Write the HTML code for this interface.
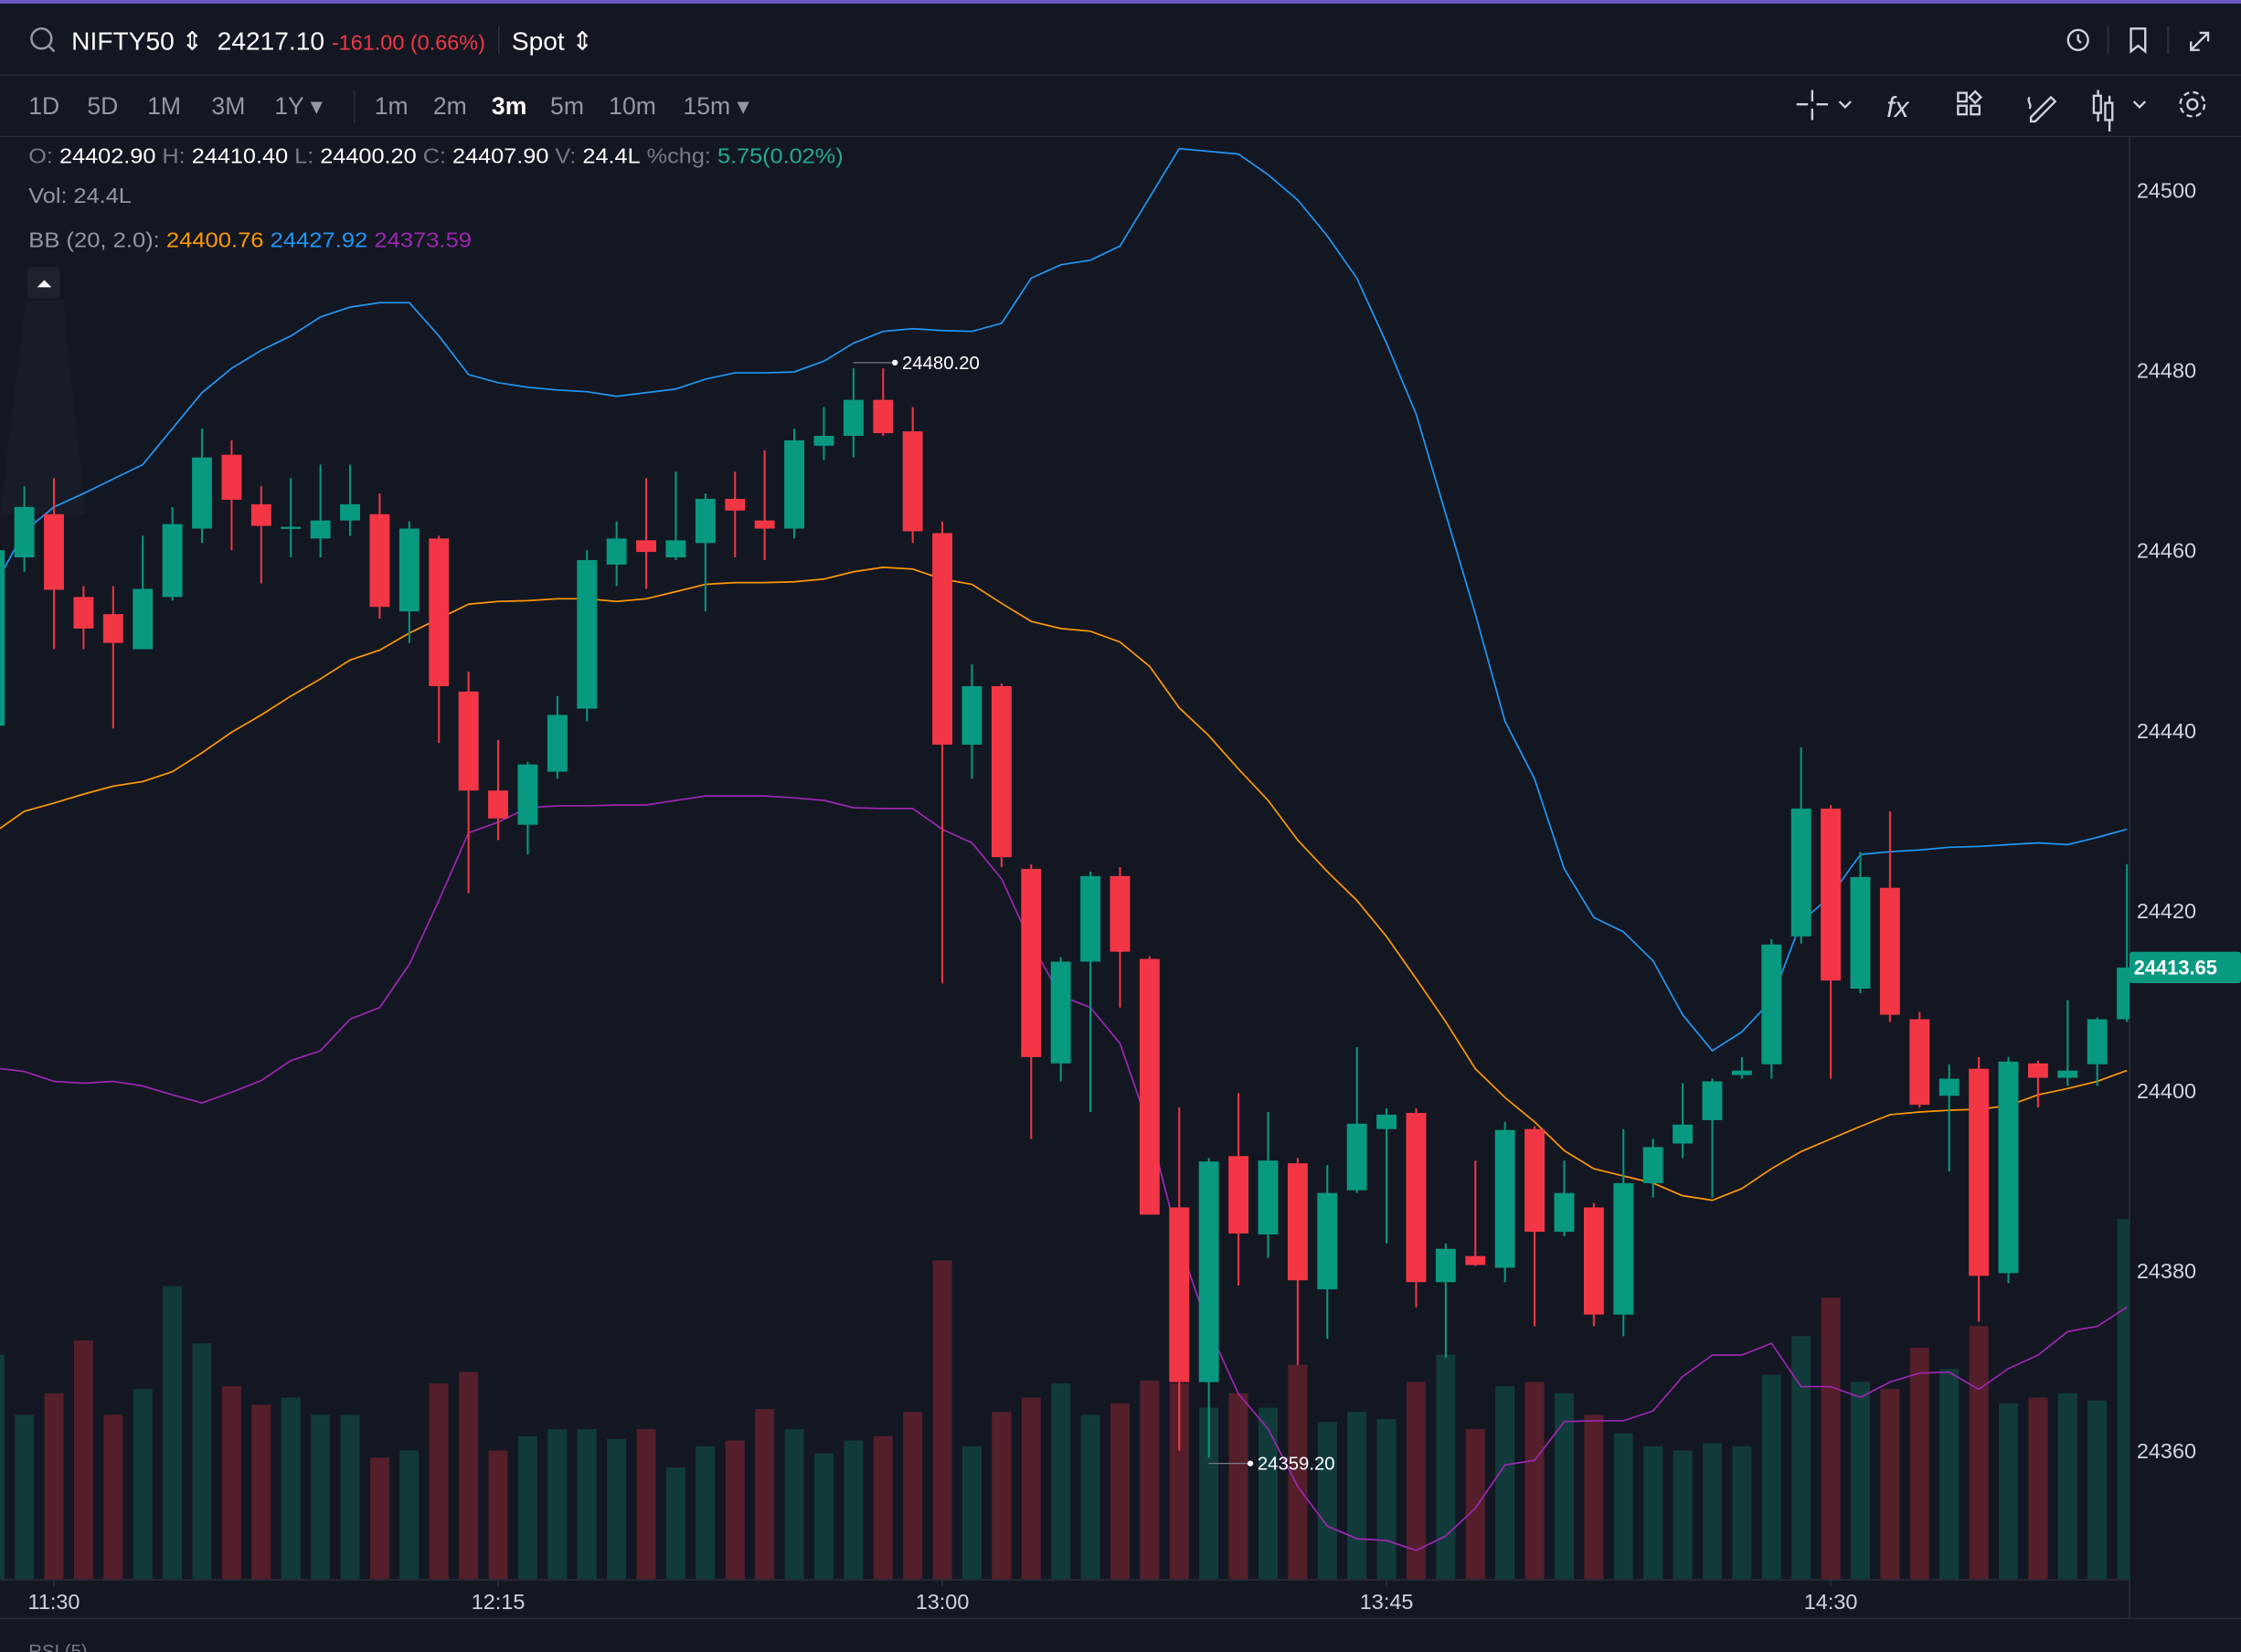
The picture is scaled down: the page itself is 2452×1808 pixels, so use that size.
<!DOCTYPE html>
<html><head><meta charset="utf-8"><style>
html,body{margin:0;padding:0;background:#131722;overflow:hidden}
svg{display:block}
text{font-family:"Liberation Sans",sans-serif}
</style></head><body>
<svg id="c" width="2452" height="1808" viewBox="0 0 1568 1156" preserveAspectRatio="none" xmlns="http://www.w3.org/2000/svg">
<defs><clipPath id="plot"><rect x="0" y="96" width="1490" height="1010"/></clipPath></defs>
<rect x="0" y="0" width="1568" height="1156" fill="#131722"/>
<rect x="0" y="0" width="1568" height="2.5" fill="#6a5cc4"/>
<line x1="0" y1="52.5" x2="1568" y2="52.5" stroke="#2a2e39"/>
<line x1="0" y1="95.5" x2="1568" y2="95.5" stroke="#2a2e39"/>
<line x1="1490" y1="96" x2="1490" y2="1132" stroke="#2a2e39"/>
<line x1="0" y1="1105.5" x2="1490" y2="1105.5" stroke="#2a2e39"/>
<line x1="0" y1="1132.5" x2="1568" y2="1132.5" stroke="#2a2e39"/>
<g><circle cx="29" cy="27" r="7" fill="none" stroke="#9598a1" stroke-width="1.6"/><line x1="34" y1="32" x2="38" y2="36" stroke="#9598a1" stroke-width="1.6"/></g>
<text x="50" y="35" font-size="18" fill="#fff">NIFTY50 ⇕</text>
<text x="152" y="35" font-size="18" fill="#fff">24217.10 <tspan fill="#f23645" font-size="15">-161.00 (0.66%)</tspan></text>
<line x1="349" y1="18" x2="349" y2="38" stroke="#2a2e39"/>
<text x="358" y="35" font-size="18" fill="#fff">Spot ⇕</text>
<g fill="none" stroke="#d1d4dc" stroke-width="1.5">
<g><circle cx="1454" cy="28" r="7"/><path d="M1454 24v4l2 2"/></g>
<line x1="1475" y1="18" x2="1475" y2="38" stroke="#2a2e39"/>
<path d="M1491 20h10v16l-5-4-5 4z"/>
<line x1="1517" y1="18" x2="1517" y2="38" stroke="#2a2e39"/>
<path d="M1533 35l12-12M1539 23h6v6M1533 29v6h6"/>
</g>
<g font-size="17" fill="#9598a1">
<text x="20" y="80">1D</text>
<text x="61" y="80">5D</text>
<text x="103" y="80">1M</text>
<text x="148" y="80">3M</text>
<text x="192" y="80">1Y ▾</text>
<line x1="248" y1="63" x2="248" y2="86" stroke="#2a2e39"/>
<text x="262" y="80">1m</text>
<text x="303" y="80">2m</text>
<text x="344" y="80" fill="#fff" font-weight="bold">3m</text>
<text x="385" y="80">5m</text>
<text x="426" y="80">10m</text>
<text x="478" y="80">15m ▾</text>
</g>
<g fill="none" stroke="#d1d4dc" stroke-width="1.5">
<g><path d="M1268 63v8M1268 76v8M1257 73h8M1271 73h8M1287 71l4 4 4-4"/></g>
<text x="1320" y="82" font-size="20" fill="#d1d4dc" stroke="none" font-style="italic">fx</text>
<g><rect x="1370" y="65" width="6" height="6"/><rect x="1370" y="74" width="6" height="6"/><rect x="1379" y="74" width="6" height="6"/><path d="M1382 64l4 4-4 4-4-4z"/></g>
<path d="M1421 82l14-14 3 3-14 14h-3zM1420 68c-2 3 2 5 0 8"/>
<g><path d="M1468 63v22M1476 67v25"/><rect x="1465" y="67" width="5" height="12" fill="#131722"/><rect x="1473" y="72" width="5" height="12" fill="#131722"/><path d="M1493 71l4 4 4-4"/></g>
<g><circle cx="1534" cy="73" r="3.5"/><circle cx="1534" cy="73" r="8.5" stroke-dasharray="4 2.7"/></g>
</g>
<g font-size="15">
<text x="20" y="114" fill="#787b86" textLength="570" lengthAdjust="spacingAndGlyphs">O: <tspan fill="#fff">24402.90</tspan> H: <tspan fill="#fff">24410.40</tspan> L: <tspan fill="#fff">24400.20</tspan> C: <tspan fill="#fff">24407.90</tspan> V: <tspan fill="#fff">24.4L</tspan> %chg: <tspan fill="#22ab94">5.75(0.02%)</tspan></text>
<text x="20" y="142" fill="#9598a1" textLength="72" lengthAdjust="spacingAndGlyphs">Vol: 24.4L</text>
<text x="20" y="173" fill="#9598a1" textLength="310" lengthAdjust="spacingAndGlyphs">BB (20, 2.0): <tspan fill="#ff9800">24400.76</tspan> <tspan fill="#2196f3">24427.92</tspan> <tspan fill="#9c27b0">24373.59</tspan></text>
</g>
<g><rect x="19" y="187" width="23" height="22" rx="3" fill="#1e222d"/><path d="M26 201l5-5 5 5z" fill="#fff"/></g>
<path d="M18 210 L0 360 L60 360 L44 210z" fill="#1b1f2a" opacity="0.6"/>
<g clip-path="url(#plot)">
<g id="vol"></g>
<g id="bands"></g>
<g id="candles"></g>
</g>
<g id="yaxis"></g>
<g id="xaxis"></g>
<text x="20" y="1160" font-size="13" fill="#787b86">RSI (5)</text>
</svg>
<script>
const opens=[24440.5,24459.2,24464,24454.8,24452.9,24449,24454.8,24462.4,24470.6,24465.1,24462.4,24461.3,24463.3,24464,24453.2,24461.3,24444.3,24433.3,24429.5,24435.4,24442.4,24458.4,24461.1,24459.2,24460.8,24465.7,24463.3,24462.4,24471.6,24472.7,24476.7,24473.2,24461.9,24438.4,24444.9,24424.6,24403,24414.3,24423.8,24414.6,24387,24367.6,24392.7,24384,24391.9,24377.9,24388.9,24395.7,24397.5,24378.7,24381.6,24380.3,24395.7,24384.3,24387,24375.1,24389.7,24394.1,24396.7,24401.7,24402.9,24417.1,24431.3,24411.3,24422.5,24407.9,24399.4,24402.4,24379.7,24403,24401.4,24402.9,24407.9];
const highs=[24461,24467.1,24468,24456,24456,24461.6,24464.8,24473.5,24472.2,24467.1,24468,24469.5,24469.5,24466.3,24463.2,24461.6,24446.5,24438.9,24436.5,24443.8,24460,24463.2,24468,24468.7,24466.3,24468.7,24471.1,24473.5,24475.9,24480.2,24480.2,24475.9,24463.2,24447.3,24445.2,24425.1,24414.8,24424.3,24424.8,24414.9,24398.1,24392.5,24399.7,24397.6,24392.5,24391.7,24404.8,24398,24398,24383,24392.2,24396.5,24396,24392.2,24387.5,24395.7,24394.6,24400.8,24401.3,24403.7,24416.8,24438.1,24431.7,24426.5,24431,24408.7,24402.9,24403.7,24403.7,24403.3,24410,24408.1,24425.1];
const lows=[24440,24457.6,24449,24449,24440.2,24449,24454.4,24460.8,24460,24456.3,24459.2,24459.2,24461.6,24452.4,24449.7,24438.6,24421.9,24427.8,24426.2,24434.6,24441,24456,24455.7,24458.9,24453.2,24459.2,24458.9,24461.3,24470,24470.3,24472.7,24460.8,24411.9,24434.6,24424.8,24394.6,24401,24397.6,24409.2,24386.2,24360,24359.2,24378.3,24381.4,24369.5,24372.4,24388.6,24383,24375.9,24370.3,24380.5,24378.7,24373.8,24383.8,24373.8,24372.7,24388.1,24392.5,24388.1,24401.3,24401.3,24416.3,24401.3,24410.8,24407.6,24398.1,24391,24374.3,24378.6,24398.1,24400.5,24400.5,24407.6];
const closes=[24460,24464.8,24455.6,24451.3,24449.7,24455.7,24462.9,24470.3,24465.6,24462.7,24462.6,24463.3,24465.1,24453.7,24462.4,24444.9,24433.3,24430.2,24436.2,24441.7,24458.9,24461.3,24459.8,24461.1,24465.7,24464.4,24462.4,24472.2,24472.7,24476.7,24473,24462.1,24438.4,24444.9,24425.9,24403.7,24414.3,24423.8,24415.4,24386.2,24367.6,24392.1,24384.1,24392.2,24378.9,24388.6,24396.3,24397.3,24378.7,24382.4,24380.6,24395.6,24384.3,24388.6,24375.1,24389.7,24393.7,24396.2,24401,24402.2,24416.2,24431.3,24412.2,24423.7,24408.4,24398.4,24401.3,24379.4,24403.2,24401.4,24402.2,24407.9,24413.65];
const volumes=[15.7,11.5,13,16.7,11.5,13.3,20.5,16.5,13.5,12.2,12.7,11.5,11.5,8.5,9,13.7,14.5,9,10,10.5,10.5,9.8,10.5,7.8,9.3,9.7,11.9,10.5,8.8,9.7,10,11.7,22.3,9.3,11.7,12.7,13.7,11.5,12.3,13.9,13.7,12,13,12,15,11,11.7,11.2,13.8,15.7,10.5,13.5,13.8,13,11.5,10.2,9.3,9,9.5,9.3,14.3,17,19.7,13.8,13.3,16.2,14.7,17.7,12.3,12.7,13,12.5,25.2];
const bbUpper=[24456,24462.1,24464.8,24466.3,24467.9,24469.5,24473.5,24477.5,24480.2,24482.2,24483.8,24485.9,24487,24487.5,24487.5,24483.8,24479.5,24478.6,24478.1,24477.8,24477.6,24477.1,24477.5,24477.9,24479,24479.7,24479.7,24479.8,24481,24483,24484.3,24484.6,24484.4,24484.3,24485.2,24490.2,24491.7,24492.2,24493.8,24499.2,24504.6,24504.3,24504,24501.7,24498.9,24494.9,24490.2,24483,24475.1,24464,24452.9,24441,24434.6,24424.6,24419.2,24417.6,24414.4,24408.4,24404.4,24406.5,24410,24418.7,24421.6,24426.2,24426.5,24426.7,24427,24427.1,24427.3,24427.5,24427.3,24428.1,24429];
const bbMiddle=[24428.7,24431,24431.9,24432.9,24433.8,24434.3,24435.4,24437.5,24439.8,24441.7,24443.8,24445.7,24447.8,24448.9,24450.8,24452.4,24454,24454.3,24454.4,24454.6,24454.6,24454.3,24454.6,24455.4,24456.2,24456.4,24456.4,24456.5,24456.8,24457.6,24458.1,24457.9,24456.8,24456.2,24454.1,24452.1,24451.3,24451,24449.8,24447.1,24442.5,24439.4,24435.7,24432.2,24427.8,24424.3,24421.1,24417.1,24412.4,24407.6,24402.4,24399.2,24396.5,24393.3,24391.3,24390.5,24389.7,24388.3,24387.8,24389.1,24391.3,24393.2,24394.6,24396,24397.3,24397.6,24397.8,24397.9,24398.3,24399.5,24400.2,24401,24402.2];
const bbLower=[24402.5,24402.1,24401,24400.8,24401,24400.5,24399.5,24398.6,24399.8,24401.1,24403.3,24404.4,24407.9,24409.2,24414,24421.1,24428.6,24429.8,24431.4,24431.6,24431.6,24431.7,24431.7,24432.2,24432.7,24432.7,24432.7,24432.5,24432.2,24431.4,24431.3,24431.3,24429,24427.5,24423.5,24416.3,24410.5,24409.2,24405.2,24395.7,24383,24373.5,24366.3,24362.4,24356,24351.6,24350.2,24350,24348.9,24350.5,24353.6,24358.4,24358.9,24363.2,24363.3,24363.3,24364.4,24368.2,24370.6,24370.6,24371.9,24367.1,24367.1,24365.9,24367.6,24368.6,24368.7,24366.8,24369.1,24370.6,24373.2,24373.8,24375.9];
const priceTicks=[24500,24480,24460,24440,24420,24400,24380,24360];
const timeTicks=["11:30","12:15","13:00","13:45","14:30"];
const timeTickIdx=[2,17,32,47,62];

const NS="http://www.w3.org/2000/svg";
const X0=-3.7, STEP=20.72;
function xAt(i){return X0+STEP*i;}
function yAt(p){return 133+(24500-p)*6.3;}
function vAt(v){return 1105-v*10;}
function mk(tag,attrs,parent){const e=document.createElementNS(NS,tag);for(const k in attrs)e.setAttribute(k,attrs[k]);parent.appendChild(e);return e;}
const UP="#089981",DN="#f23645";
const vol=document.getElementById('vol');
volumes.forEach((v,i)=>{
  const up=closes[i]>=opens[i];
  const r=mk('rect',{x:xAt(i)-6.7,y:vAt(v),width:13.4,height:1105-vAt(v),fill:up?"#113b3a":"#541f2a"},vol);
  
  
});
const bands=document.getElementById('bands');
[[bbUpper,"#2196f3","bb-upper-line"],[bbMiddle,"#ff9800","bb-middle-line"],[bbLower,"#9c27b0","bb-lower-line"]].forEach(([arr,col,nm])=>{
  const d=arr.map((p,i)=>(i?'L':'M')+xAt(i).toFixed(1)+' '+yAt(p).toFixed(1)).join(' ');
  const pth=mk('path',{d:d,fill:'none',stroke:col,'stroke-width':1.1},bands);
  
  
});
const cg=document.getElementById('candles');
opens.forEach((o,i)=>{
  const c=closes[i],up=c>=o,col=up?UP:DN,x=xAt(i);
  const g=mk('g',{},cg);
  
  
  mk('line',{x1:x,x2:x,y1:yAt(highs[i]),y2:yAt(lows[i]),stroke:col,'stroke-width':1.3},g);
  const t=yAt(Math.max(o,c)),b=yAt(Math.min(o,c));
  mk('rect',{x:x-7,y:t,width:14,height:Math.max(1.5,b-t),fill:col},g);
});
let hi=0,lo=0;highs.forEach((h,i)=>{if(h>highs[hi])hi=i;});lows.forEach((l,i)=>{if(l<lows[lo])lo=i;});
[[hi,highs[hi],-4],[lo,lows[lo],4]].forEach(([i,p,dy])=>{
  const g=mk('g',{},cg);
  
  
  const x=xAt(i),y=yAt(p)+dy;
  mk('path',{d:`M${x} ${y} H${x+28}`,stroke:'#787b86','stroke-width':0.8,fill:'none'},g);
  mk('circle',{cx:x+29,cy:y,r:2,fill:'#fff'},g);
  const t=mk('text',{x:x+34,y:y+4.5,'font-size':13,fill:'#fff'},g);t.textContent=p.toFixed(2);
});
const ya=document.getElementById('yaxis');
priceTicks.forEach(p=>{
  const t=mk('text',{x:1495,y:yAt(p)+5.5,'font-size':15,fill:'#d1d4dc'},ya);
  
  
  t.textContent=p;
});
const last=closes[closes.length-1];
const lb=mk('rect',{x:1490,y:yAt(last)-11,width:78,height:22,fill:UP,rx:2},ya);


const lt=mk('text',{x:1493,y:yAt(last)+5,'font-size':14,fill:'#fff','font-weight':'bold'},ya);lt.textContent=last.toFixed(2);
const xa=document.getElementById('xaxis');
timeTicks.forEach((s,k)=>{
  const x=xAt(timeTickIdx[k]);
  mk('line',{x1:x,x2:x,y1:1105,y2:1110,stroke:'#2a2e39'},xa);
  const t=mk('text',{x:x,y:1126,'font-size':15,fill:'#d1d4dc','text-anchor':'middle'},xa);
  
  
  t.textContent=s;
});
</script>
</body></html>
